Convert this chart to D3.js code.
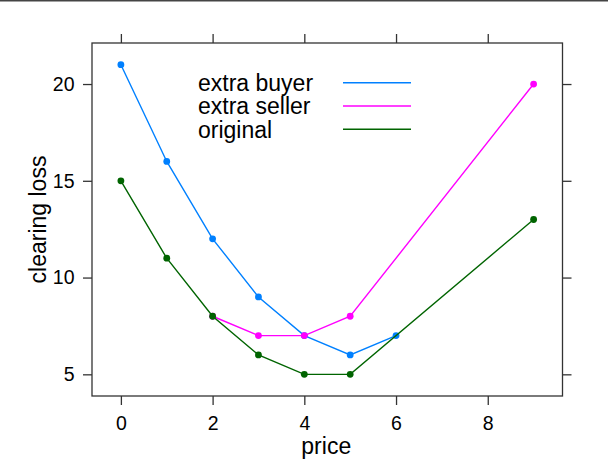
<!DOCTYPE html>
<html>
<head>
<meta charset="utf-8">
<script src="https://cdn.jsdelivr.net/npm/d3@7"></script>
<style>
  body { margin: 0; background: #fff; }
  text { font-family: "Liberation Sans", Arial, sans-serif; fill: #000; }
</style>
</head>
<body>
<div id="chart"></div>
<script>
// data
const seriesNames = ["extra buyer", "extra seller", "original"];
const seriesColors = ["#0080ff", "#ff00ff", "#006400"];

const buyerPrice = [0, 1, 2, 3, 4, 5, 6];
const buyerLoss = [21, 16, 12, 9, 7, 6, 7];

const sellerPrice = [2, 3, 4, 5, 9];
const sellerLoss = [8, 7, 7, 8, 20];

const originalPrice = [0, 1, 2, 3, 4, 5, 9];
const originalLoss = [15, 11, 8, 6, 5, 5, 13];

const xTicks = [0, 2, 4, 6, 8];
const yTicks = [5, 10, 15, 20];

const width = 608;
const height = 460;
const tickFont = 19.5;
const labelFont = 23;

const svg = d3.select("#chart")
    .append("svg")
    .attr("width", width)
    .attr("height", height);

// thin rule along the very top
svg.append("line")
    .attr("x1", 0).attr("x2", width)
    .attr("y1", 0.75).attr("y2", 0.75)
    .attr("stroke", "#444")
    .attr("stroke-width", 1.5);

const x = d3.scaleLinear().domain([-0.63, 9.63]).range([92, 562.5]);
const y = d3.scaleLinear().domain([3.88, 22.12]).range([396, 43]);

const series = [
    { name: seriesNames[0], color: seriesColors[0], price: buyerPrice, loss: buyerLoss },
    { name: seriesNames[1], color: seriesColors[1], price: sellerPrice, loss: sellerLoss },
    { name: seriesNames[2], color: seriesColors[2], price: originalPrice, loss: originalLoss }
];

/*********************************************/
/*              axes                         */
/*********************************************/
const axisStyle = g => {
    g.select(".domain").remove();
    g.selectAll(".tick line").attr("stroke", "#333").attr("stroke-width", 1.3);
    g.selectAll("text")
        .style("font-size", tickFont + "px")
        .attr("fill", "#000");
};

svg.append("g")
    .attr("transform", `translate(0, ${y.range()[0]})`)
    .call(d3.axisBottom(x).tickValues(xTicks).tickSize(9).tickSizeOuter(0).tickPadding(11).tickFormat(d3.format("d")))
    .call(axisStyle);

svg.append("g")
    .attr("transform", `translate(0, ${y.range()[1]})`)
    .call(d3.axisTop(x).tickValues(xTicks).tickSize(9).tickSizeOuter(0).tickFormat(""))
    .call(axisStyle);

svg.append("g")
    .attr("transform", `translate(${x.range()[0]}, 0)`)
    .call(d3.axisLeft(y).tickValues(yTicks).tickSize(9).tickSizeOuter(0).tickPadding(8.5).tickFormat(d3.format("d")))
    .call(axisStyle);

svg.append("g")
    .attr("transform", `translate(${x.range()[1]}, 0)`)
    .call(d3.axisRight(y).tickValues(yTicks).tickSize(9).tickSizeOuter(0).tickFormat(""))
    .call(axisStyle);

// panel box
svg.append("rect")
    .attr("x", x.range()[0])
    .attr("y", y.range()[1])
    .attr("width", x.range()[1] - x.range()[0])
    .attr("height", y.range()[0] - y.range()[1])
    .attr("fill", "none")
    .attr("stroke", "#333")
    .attr("stroke-width", 1.3);

// axis titles
svg.append("text")
    .text("price")
    .attr("transform", `translate(${(x.range()[0] + x.range()[1]) / 2 - 1}, 454)`)
    .attr("text-anchor", "middle")
    .style("font-size", labelFont + "px");

svg.append("text")
    .text("clearing loss")
    .attr("transform", `translate(45.5, ${(y.range()[0] + y.range()[1]) / 2}) rotate(-90)`)
    .attr("text-anchor", "middle")
    .style("font-size", labelFont + "px");

/*********************************************/
/*              lines + points               */
/*********************************************/
const lineGen = d3.line()
    .x(d => x(d[0]))
    .y(d => y(d[1]));

series.forEach(s => {
    const pts = s.price.map((p, i) => [p, s.loss[i]]);
    const g = svg.append("g");
    g.append("path")
        .attr("d", lineGen(pts))
        .attr("fill", "none")
        .attr("stroke", s.color)
        .attr("stroke-width", 1.4);
    g.selectAll("circle")
        .data(pts)
        .join("circle")
        .attr("cx", d => x(d[0]))
        .attr("cy", d => y(d[1]))
        .attr("r", 3.4)
        .attr("fill", s.color);
});

/*********************************************/
/*              legend                       */
/*********************************************/
const legend = svg.append("g");
const legendRow = d3.scaleLinear().domain([0, 1]).range([91, 114.3]);

series.forEach((s, i) => {
    legend.append("text")
        .text(s.name)
        .attr("x", 198)
        .attr("y", legendRow(i))
        .style("font-size", labelFont + "px");
    legend.append("line")
        .attr("x1", 343).attr("x2", 411)
        .attr("y1", legendRow(i) - 8.3).attr("y2", legendRow(i) - 8.3)
        .attr("stroke", s.color)
        .attr("stroke-width", 1.4);
});
</script>
</body>
</html>
